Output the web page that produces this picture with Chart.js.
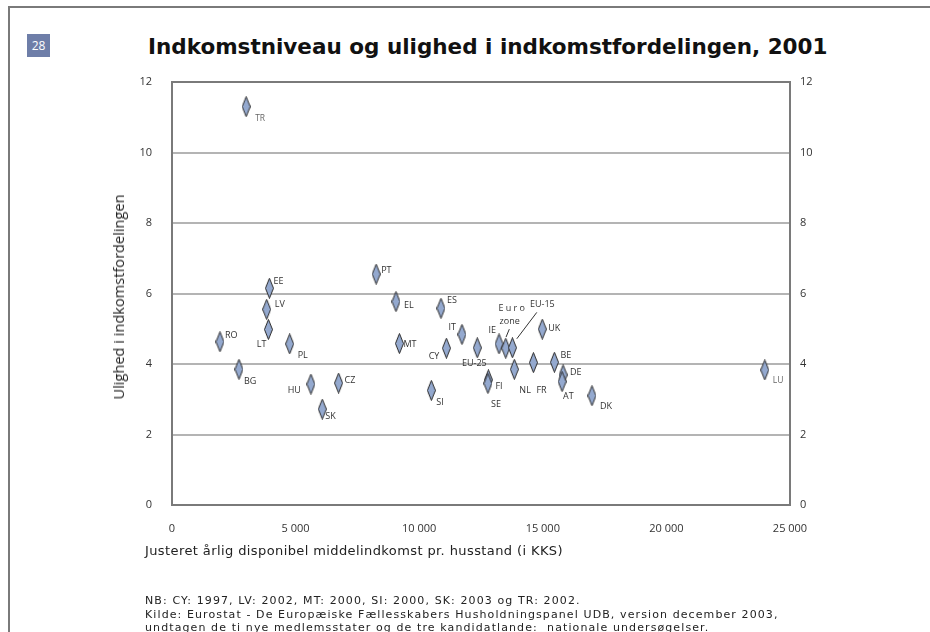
<!DOCTYPE html>
<html>
<head>
<meta charset="utf-8">
<script src="https://cdn.jsdelivr.net/npm/chart.js@4/dist/chart.umd.min.js"></script>
<style>
  body { margin: 0; background: #fff; }
  #page { position: relative; width: 930px; height: 632px; overflow: hidden; font-family: 'DejaVu Sans', sans-serif; color: #222; }
  #chart { position: absolute; left: 0; top: 0; }
  .frame-top { position: absolute; left: 8px; top: 6px; width: 930px; height: 2px; background: #7a7a7a; }
  .frame-left { position: absolute; left: 8px; top: 6px; width: 2px; height: 640px; background: #7a7a7a; }
  .badge { position: absolute; left: 27px; top: 34px; width: 23px; height: 23px; background: #6e7ea8; color: #fff;
           font: 12px 'Liberation Sans Narrow', 'Open Sans', sans-serif; line-height: 23px; text-align: center; }
  .title { position: absolute; left: 148px; top: 34px; font: bold 21.5px 'DejaVu Sans', sans-serif; line-height: 26px; color: #111; white-space: nowrap; }
  .ytitle { position: absolute; left: 118px; top: 297px; transform: translate(-50%, -50%) rotate(-90deg);
            font: 14.6px 'Open Sans', sans-serif; white-space: nowrap; color: #222; }
  .xtitle { position: absolute; left: 145px; top: 542px; font: 13px 'DejaVu Sans', sans-serif; letter-spacing: 0.4px; line-height: 18px; white-space: nowrap; }
  .notes { position: absolute; left: 145px; top: 594px; font: 11px 'DejaVu Sans', sans-serif; letter-spacing: 1.1px; line-height: 13.5px; white-space: nowrap; }
</style>
</head>
<body>
<div id="page">
  <div class="frame-top"></div>
  <div class="frame-left"></div>
  <div class="badge">28</div>
  <div class="title">Indkomstniveau og ulighed i indkomstfordelingen, 2001</div>
  <canvas id="chart" width="930" height="632"></canvas>
  <div class="ytitle">Ulighed i indkomstfordelingen</div>
  <div class="xtitle">Justeret årlig disponibel middelindkomst pr. husstand (i KKS)</div>
  <div class="notes">NB: CY: 1997, LV: 2002, MT: 2000, SI: 2000, SK: 2003 og TR: 2002.<br>Kilde: Eurostat - De Europæiske Fællesskabers Husholdningspanel UDB, version december 2003,<br>undtagen de ti nye medlemsstater og de tre kandidatlande:&nbsp; nationale undersøgelser.</div>
</div>
<script>
// ── Data ──

var COUNTRIES = ['TR', 'EE', 'LV', 'LT', 'RO', 'PL', 'BG', 'HU', 'CZ', 'SK',
  'PT', 'EL', 'MT', 'ES', 'CY', 'IT', 'SI', 'EU-25', 'FI', 'SE',
  'IE', 'Euro zone', 'EU-15', 'NL', 'FR', 'UK', 'BE', 'DE', 'AT', 'DK', 'LU'];

// adjusted yearly disposable mean income per household (PPS)
var INCOME = [3000, 3940, 3830, 3900, 1940, 4760, 2710, 5620, 6740, 6080,
  8260, 9060, 9200, 10880, 11100, 11730, 10490, 12350, 12800, 12780,
  13230, 13500, 13770, 13850, 14620, 14980, 15470, 15820, 15780, 16990, 23980];

// inequality (S80/S20)
var INEQUALITY = [11.3, 6.15, 5.55, 4.98, 4.63, 4.57, 3.85, 3.43, 3.46, 2.72,
  6.55, 5.77, 4.58, 5.58, 4.45, 4.84, 3.25, 4.46, 3.55, 3.45,
  4.57, 4.45, 4.46, 3.85, 4.04, 4.99, 4.05, 3.69, 3.50, 3.10, 3.83];

var X_TICKS = [0, 5000, 10000, 15000, 20000, 25000];
var Y_TICKS = [0, 2, 4, 6, 8, 10, 12];

// label placement next to each marker: dx, dy, align
var LABEL_POS = {
  'TR': [9, 12, 'left'], 'EE': [4, -7, 'left'], 'LV': [8, -5, 'left'], 'LT': [-2, 15, 'right'],
  'RO': [5, -6, 'left'], 'PL': [8, 12, 'left'], 'BG': [5, 12, 'left'], 'HU': [-10, 6, 'right'],
  'CZ': [6, -3, 'left'], 'SK': [3, 7, 'left'], 'PT': [5, -4, 'left'], 'EL': [8, 4, 'left'],
  'MT': [4, 1, 'left'], 'ES': [6, -8, 'left'], 'CY': [-7, 8, 'right'], 'IT': [-6, -7, 'right'],
  'SI': [5, 12, 'left'], 'EU-25': [-3, 16, 'center'], 'FI': [7, 7, 'left'], 'SE': [8, 21, 'center'],
  'IE': [-3, -13, 'right'], 'NL': [5, 21, 'left'], 'FR': [3, 28, 'left'], 'UK': [6, -1, 'left'],
  'BE': [6, -7, 'left'], 'DE': [7, -2, 'left'], 'AT': [1, 15, 'left'], 'DK': [8, 11, 'left'],
  'LU': [8, 11, 'left']
};
var SMALL_LABELS = { 'TR': true, 'LU': true };

function fmtThousands(v) {
  return String(v).replace(/\B(?=(\d{3})+(?!\d))/g, ' ');
}

// tall narrow diamond marker
function makeDiamond() {
  var c = document.createElement('canvas');
  c.width = 9; c.height = 21;
  var g = c.getContext('2d');
  g.beginPath();
  g.moveTo(4.5, 0.5);
  g.lineTo(8.5, 10.5);
  g.lineTo(4.5, 20.5);
  g.lineTo(0.5, 10.5);
  g.closePath();
  g.fillStyle = '#94a9cf';
  g.fill();
  g.strokeStyle = '#2a2a2a';
  g.lineWidth = 1;
  g.stroke();
  return c;
}

var points = INCOME.map(function (x, i) { return { x: x, y: INEQUALITY[i] }; });
var tickFont = { family: "'Liberation Sans Narrow', 'Open Sans', sans-serif", size: 11 };

var labelPlugin = {
  id: 'pointLabels',
  afterDatasetsDraw: function (chart) {
    var ctx = chart.ctx;
    var meta = chart.getDatasetMeta(0);
    ctx.save();
    ctx.textBaseline = 'middle';
    for (var i = 0; i < COUNTRIES.length; i++) {
      var name = COUNTRIES[i];
      var p = meta.data[i];
      if (!p) continue;
      if (name === 'Euro zone') {
        ctx.font = "9px 'Open Sans', sans-serif";
        ctx.fillStyle = '#333';
        ctx.textAlign = 'center';
        ctx.fillText('E u r o', p.x + 6, p.y - 40);
        ctx.fillText('zone', p.x + 4, p.y - 27);
        ctx.strokeStyle = '#333';
        ctx.lineWidth = 1;
        ctx.beginPath();
        ctx.moveTo(p.x + 3.6, p.y - 19);
        ctx.lineTo(p.x + 0.3, p.y - 11);
        ctx.stroke();
        continue;
      }
      if (name === 'EU-15') {
        ctx.font = "9px 'Open Sans', sans-serif";
        ctx.fillStyle = '#333';
        ctx.textAlign = 'center';
        ctx.fillText('EU-15', p.x + 30, p.y - 43);
        ctx.strokeStyle = '#333';
        ctx.lineWidth = 1;
        ctx.beginPath();
        ctx.moveTo(p.x + 24.4, p.y - 35.4);
        ctx.lineTo(p.x + 4.4, p.y - 9);
        ctx.stroke();
        continue;
      }
      var pos = LABEL_POS[name];
      if (SMALL_LABELS[name]) {
        ctx.font = "8.5px 'Open Sans', sans-serif";
        ctx.fillStyle = '#666';
      } else {
        ctx.font = "9px 'Open Sans', sans-serif";
        ctx.fillStyle = '#333';
      }
      ctx.textAlign = pos[2];
      ctx.fillText(name, p.x + pos[0], p.y + pos[1]);
    }
    ctx.restore();
  },
  afterDraw: function (chart) {
    var a = chart.chartArea;
    var ctx = chart.ctx;
    ctx.save();
    ctx.strokeStyle = '#7a7a7a';
    ctx.lineWidth = 2;
    ctx.strokeRect(a.left, a.top, a.right - a.left, a.bottom - a.top);
    ctx.restore();
  }
};

new Chart(document.getElementById('chart').getContext('2d'), {
  type: 'scatter',
  data: {
    datasets: [{
      data: points,
      pointStyle: makeDiamond(),
      pointRadius: 8,
      pointHoverRadius: 8
    }]
  },
  options: {
    responsive: false,
    animation: false,
    devicePixelRatio: 1,
    layout: { padding: { top: 82, left: 0, right: 0, bottom: 0 } },
    plugins: { legend: { display: false }, tooltip: { enabled: false } },
    scales: {
      x: {
        type: 'linear',
        min: 0, max: 25000,
        afterFit: function (s) { s.height = 127; },
        afterBuildTicks: function (s) { s.ticks = X_TICKS.map(function (v) { return { value: v }; }); },
        ticks: { padding: 17, color: '#333', font: tickFont, maxRotation: 0,
                 callback: function (v) { return fmtThousands(v); } },
        grid: { display: false, drawTicks: false },
        border: { display: false }
      },
      y: {
        position: 'left',
        min: 0, max: 12,
        afterFit: function (s) { s.width = 172; },
        afterBuildTicks: function (s) { s.ticks = Y_TICKS.map(function (v) { return { value: v }; }); },
        ticks: { padding: 20, color: '#333', font: tickFont },
        grid: { color: '#b4b4b4', lineWidth: 2, drawTicks: false },
        border: { display: false }
      },
      y2: {
        position: 'right',
        display: true,
        min: 0, max: 12,
        afterFit: function (s) { s.width = 140; },
        afterBuildTicks: function (s) { s.ticks = Y_TICKS.map(function (v) { return { value: v }; }); },
        ticks: { padding: 10, color: '#333', font: tickFont },
        grid: { display: false, drawTicks: false },
        border: { display: false }
      }
    }
  },
  plugins: [labelPlugin]
});
</script>
</body>
</html>
